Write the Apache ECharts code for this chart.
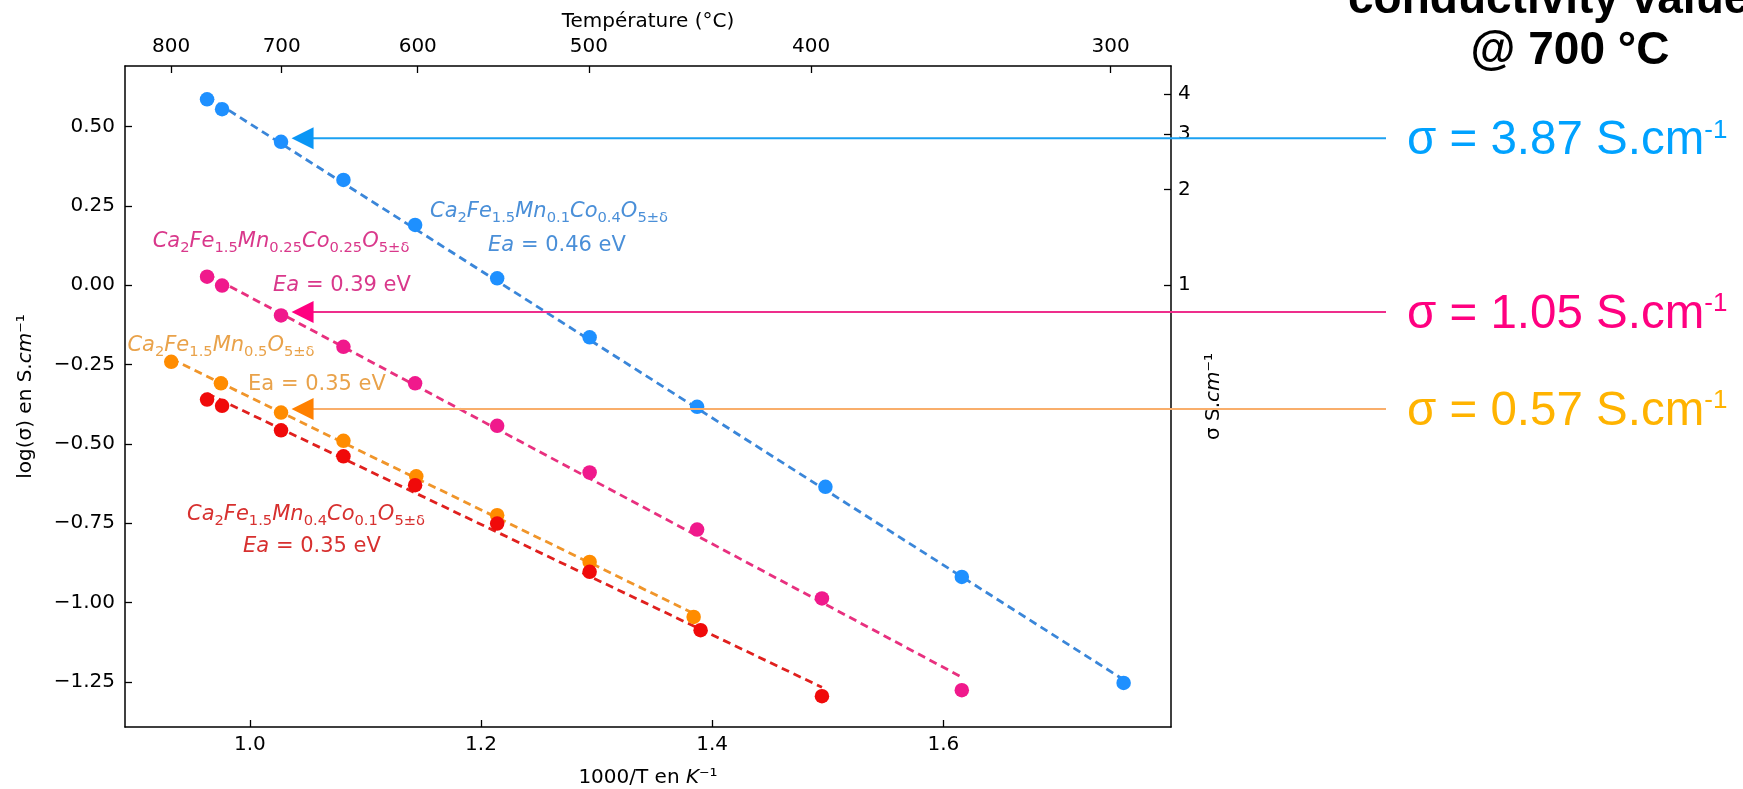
<!DOCTYPE html>
<html>
<head>
<meta charset="utf-8">
<script src="https://cdn.jsdelivr.net/npm/echarts@6/dist/echarts.min.js"></script>
<style>html,body{margin:0;padding:0;background:#fff}#c{width:1743px;height:789px}</style>
</head>
<body>
<div id="c"></div>
<script>
// ---------- data ----------
const blueX = [0.963, 0.976, 1.027, 1.081, 1.143, 1.214, 1.294, 1.387, 1.498, 1.616, 1.756];
const blueY = [0.586, 0.555, 0.452, 0.332, 0.190, 0.022, -0.164, -0.383, -0.635, -0.919, -1.253];
const pinkX = [0.963, 0.976, 1.027, 1.081, 1.143, 1.214, 1.294, 1.387, 1.495, 1.616];
const pinkY = [0.027, -0.001, -0.095, -0.194, -0.309, -0.443, -0.590, -0.770, -0.987, -1.276];
const orangeX = [0.932, 0.975, 1.027, 1.081, 1.144, 1.214, 1.294, 1.384];
const orangeY = [-0.241, -0.309, -0.401, -0.490, -0.602, -0.7245, -0.872, -1.045];
const redX = [0.963, 0.976, 1.027, 1.081, 1.143, 1.214, 1.294, 1.390, 1.495];
const redY = [-0.360, -0.380, -0.457, -0.539, -0.630, -0.751, -0.903, -1.087, -1.295];

// fitted (dashed) lines: end points
const blueFitX = [0.963, 1.756];   const blueFitY = [0.595, -1.243];
const pinkFitX = [0.963, 1.616];   const pinkFitY = [0.035, -1.235];
const orangeFitX = [0.932, 1.384]; const orangeFitY = [-0.232, -1.034];
const redFitX = [0.963, 1.495];    const redFitY = [-0.341, -1.267];

// tick labels
const bottomTicks = [1.0, 1.2, 1.4, 1.6];
const topTicksC = [800, 700, 600, 500, 400, 300];
const leftTicks = [-1.25, -1.0, -0.75, -0.5, -0.25, 0, 0.25, 0.5];
const rightTicksSigma = [1, 2, 3, 4];

// texts
const formulaBlue = '{i|Ca}{s|2}{i|Fe}{s|1.5}{i|Mn}{s|0.1}{i|Co}{s|0.4}{i|O}{s|5±δ}';
const formulaPink = '{i|Ca}{s|2}{i|Fe}{s|1.5}{i|Mn}{s|0.25}{i|Co}{s|0.25}{i|O}{s|5±δ}';
const formulaOrange = '{i|Ca}{s|2}{i|Fe}{s|1.5}{i|Mn}{s|0.5}{i|O}{s|5±δ}';
const formulaRed = '{i|Ca}{s|2}{i|Fe}{s|1.5}{i|Mn}{s|0.4}{i|Co}{s|0.1}{i|O}{s|5±δ}';
const eaBlue = '{i|Ea}{n| = 0.46 eV}';
const eaPink = '{i|Ea}{n| = 0.39 eV}';
const eaOrange = '{n|Ea = 0.35 eV}';
const eaRed = '{i|Ea}{n| = 0.35 eV}';
const sigmaTexts = ['σ = 3.87 S.cm', 'σ = 1.05 S.cm', 'σ = 0.57 S.cm'];
const titleLines = ['conductivity values', '@ 700 °C'];

// ---------- styling ----------
const FONT = 'DejaVu Sans';
const xMin = 0.892, xMax = 1.797, yMin = -1.392, yMax = 0.691;
const C = {
  blue: '#1E90FF', pink: '#F0198C', orange: '#FF8C00', red: '#F00A0A',
  blueLine: '#3A86D9', pinkLine: '#E8307F', orangeLine: '#F0952A', redLine: '#E0201E',
  blueText: '#4A8FD8', pinkText: '#D9388B', orangeText: '#E9A24A', redText: '#D7302F'
};

function zip(xs, ys) { return xs.map((x, i) => [x, ys[i]]); }
function fmt(v, d) { const s = Math.abs(v).toFixed(d); return (v < -1e-9 ? '\u2212' : '') + s; }

const axisLineStyle = { color: '#000', width: 1.5 };
const tickStyle = { color: '#000', width: 1.3 };
const labelBase = { fontFamily: FONT, fontSize: 20, color: '#000' };
const nameStyle = { fontFamily: FONT, fontSize: 20, color: '#000',
  rich: { i: { fontFamily: FONT, fontSize: 20, fontStyle: 'italic', color: '#000' } } };

const topTickVals = topTicksC.map(c => 1000 / (c + 273.15));
const rightTickVals = rightTicksSigma.map(s => Math.log10(s));

function fitSeries(xs, ys, color) {
  return { type: 'line', xAxisIndex: 0, yAxisIndex: 0, data: zip(xs, ys), symbol: 'none', silent: true, z: 2,
    lineStyle: { color: color, width: 2.8, type: [8, 5] } };
}
function ptSeries(xs, ys, color) {
  return { type: 'scatter', xAxisIndex: 0, yAxisIndex: 0, data: zip(xs, ys), symbol: 'circle', symbolSize: 14.5, z: 3,
    itemStyle: { color: color, opacity: 1 } };
}

const chart = echarts.init(document.getElementById('c'), null, { renderer: 'canvas', width: 1743, height: 789 });

chart.setOption({
  animation: false,
  backgroundColor: '#fff',
  grid: { left: 125, right: 572, top: 66, bottom: 62, containLabel: false, outerBoundsMode: 'none' },
  xAxis: [
    { type: 'value', position: 'bottom', min: xMin, max: xMax,
      axisLine: { show: true, onZero: false, lineStyle: axisLineStyle },
      axisTick: { show: true, inside: true, length: 7, customValues: bottomTicks, lineStyle: tickStyle },
      axisLabel: Object.assign({ customValues: bottomTicks, formatter: v => v.toFixed(1), margin: 8 }, labelBase),
      splitLine: { show: false },
      name: '1000/T en {i|K}⁻¹', nameLocation: 'middle', nameGap: 41, nameTextStyle: nameStyle },
    { type: 'value', position: 'top', min: xMin, max: xMax,
      axisLine: { show: true, onZero: false, lineStyle: axisLineStyle },
      axisTick: { show: true, inside: true, length: 7, customValues: topTickVals, lineStyle: tickStyle },
      axisLabel: Object.assign({ customValues: topTickVals, formatter: v => String(Math.round(1000 / v - 273.15)), margin: 9 }, labelBase),
      splitLine: { show: false },
      name: 'Température (°C)', nameLocation: 'middle', nameGap: 34, nameTextStyle: nameStyle }
  ],
  yAxis: [
    { type: 'value', position: 'left', min: yMin, max: yMax,
      axisLine: { show: true, onZero: false, lineStyle: axisLineStyle },
      axisTick: { show: true, inside: true, length: 7, customValues: leftTicks, lineStyle: tickStyle },
      axisLabel: Object.assign({ customValues: leftTicks, formatter: v => fmt(v, 2), margin: 10 }, labelBase),
      splitLine: { show: false },
      name: 'log(σ) en S.{i|cm}⁻¹', nameLocation: 'middle', nameRotate: 90, nameGap: 89, nameTextStyle: nameStyle },
    { type: 'value', position: 'right', min: yMin, max: yMax,
      axisLine: { show: true, onZero: false, lineStyle: axisLineStyle },
      axisTick: { show: true, inside: true, length: 7, customValues: rightTickVals, lineStyle: tickStyle },
      axisLabel: Object.assign({ customValues: rightTickVals, formatter: v => String(Math.round(Math.pow(10, v))), margin: 7 }, labelBase),
      splitLine: { show: false },
      name: 'σ S.{i|cm}⁻¹', nameLocation: 'middle', nameRotate: 90, nameGap: 33, nameTextStyle: nameStyle }
  ],
  series: [
    fitSeries(blueFitX, blueFitY, C.blueLine),
    fitSeries(pinkFitX, pinkFitY, C.pinkLine),
    fitSeries(orangeFitX, orangeFitY, C.orangeLine),
    fitSeries(redFitX, redFitY, C.redLine),
    ptSeries(blueX, blueY, C.blue),
    ptSeries(pinkX, pinkY, C.pink),
    ptSeries(orangeX, orangeY, C.orange),
    ptSeries(redX, redY, C.red)
  ]
});

// ---------- annotations ----------
function annRich(color) {
  const size = 21;
  return {
    n: { fontFamily: FONT, fontSize: size, fill: color, lineHeight: 28, verticalAlign: 'middle' },
    i: { fontFamily: FONT, fontSize: size, fontStyle: 'italic', fill: color, lineHeight: 28, verticalAlign: 'middle' },
    s: { fontFamily: FONT, fontSize: 14.7, fill: color, lineHeight: 15, verticalAlign: 'bottom' }
  };
}
function ann(text, color, x, y) {
  return { type: 'text', z: 50, silent: true,
    style: { text: text, rich: annRich(color), x: x, y: y, align: 'center', verticalAlign: 'middle',
      textAlign: 'center', textVerticalAlign: 'middle', fill: color,
      stroke: 'rgba(255,255,255,0.85)', lineWidth: 2 } };
}

const graphics = [
  ann(formulaBlue, C.blueText, 549, 212),
  ann(eaBlue, C.blueText, 557, 246),
  ann(formulaPink, C.pinkText, 281, 242),
  ann(eaPink, C.pinkText, 342, 286),
  ann(formulaOrange, C.orangeText, 221, 346),
  ann(eaOrange, C.orangeText, 317, 385),
  ann(formulaRed, C.redText, 306, 515),
  ann(eaRed, C.redText, 312, 547)
];

// arrows pointing at the 700 °C points, with the conductivity values
const ARROW_END_X = 1386;
const arrows = [
  { xs: blueX, ys: blueY, line: '#1BA1F2', head: '#0A96F5', text: '#00A2FF', label: sigmaTexts[0] },
  { xs: pinkX, ys: pinkY, line: '#EE2E8C', head: '#FF0080', text: '#FF0080', label: sigmaTexts[1] },
  { xs: orangeX, ys: orangeY, line: '#F9AE6B', head: '#FF8000', text: '#FFB300', label: sigmaTexts[2] }
];
arrows.forEach(a => {
  const p = chart.convertToPixel({ xAxisIndex: 0, yAxisIndex: 0 }, [a.xs[2], a.ys[2]]);
  const y = p[1] - 3.5, tip = p[0] + 10.5;
  graphics.push({ type: 'line', z: 60, silent: true,
    shape: { x1: tip + 20, y1: y, x2: ARROW_END_X, y2: y }, style: { stroke: a.line, lineWidth: 2 } });
  graphics.push({ type: 'polygon', z: 61, silent: true,
    shape: { points: [[tip, y], [tip + 22, y - 11], [tip + 22, y + 11]] }, style: { fill: a.head } });
  graphics.push({ type: 'text', z: 62, silent: true,
    style: { text: '{a|' + a.label + '}{b|-1}', x: 1407, y: y + 3, align: 'left', verticalAlign: 'middle',
      textAlign: 'left', textVerticalAlign: 'middle', fill: a.text,
      rich: {
        a: { fontFamily: 'Liberation Sans', fontSize: 47.5, fill: a.text, lineHeight: 48, verticalAlign: 'middle' },
        b: { fontFamily: 'Liberation Sans', fontSize: 26, fill: a.text, lineHeight: 26, verticalAlign: 'top' }
      } } });
});

// heading (cut off at the top in the reference)
graphics.push({ type: 'text', z: 62, silent: true,
  style: { text: titleLines[0], x: 1348, y: 23, align: 'left', verticalAlign: 'bottom',
    textAlign: 'left', textVerticalAlign: 'bottom', fill: '#000',
    fontFamily: 'Liberation Sans', fontSize: 46, fontWeight: 'bold', font: 'bold 46px "Liberation Sans"' } });
graphics.push({ type: 'text', z: 62, silent: true,
  style: { text: titleLines[1], x: 1570, y: 51, align: 'center', verticalAlign: 'middle',
    textAlign: 'center', textVerticalAlign: 'middle', fill: '#000',
    fontFamily: 'Liberation Sans', fontSize: 46, fontWeight: 'bold', font: 'bold 46px "Liberation Sans"' } });

chart.setOption({ graphic: graphics });
</script>
</body>
</html>
